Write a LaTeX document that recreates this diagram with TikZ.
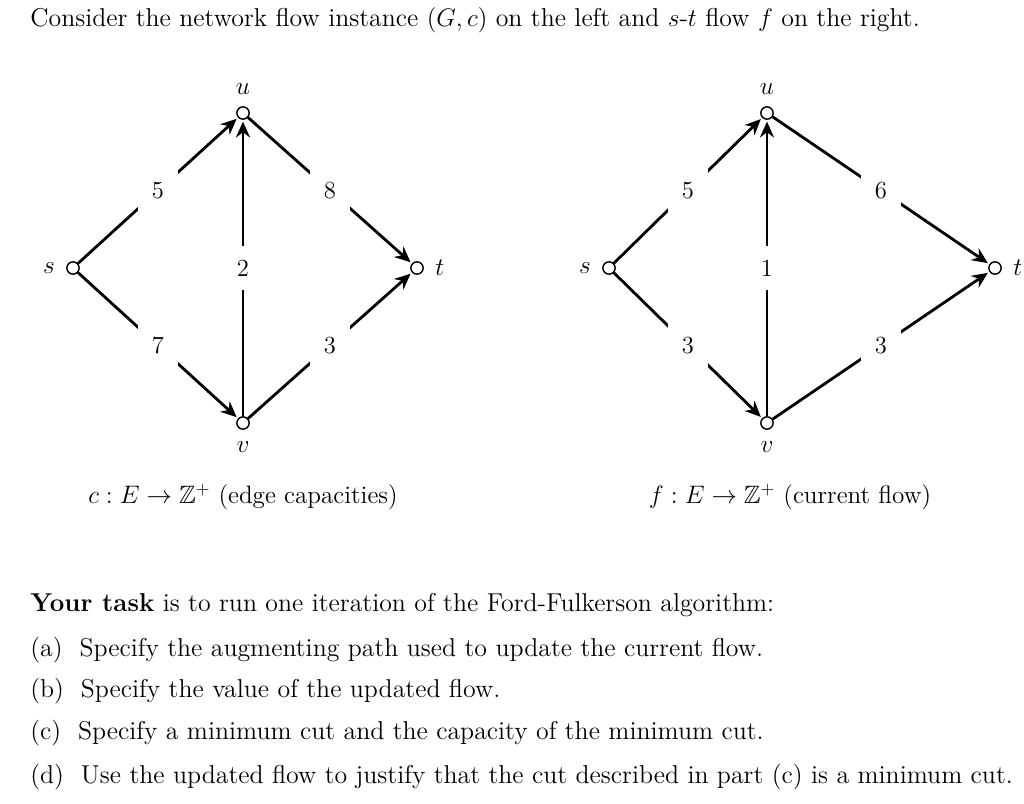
\documentclass[tikz,border=0pt]{standalone}
\usepackage{amsmath}
\usepackage{amssymb}
\usetikzlibrary{positioning,arrows.meta}
\tikzset{
  vertex/.style = {circle, draw, thick, fill=white, inner sep=0pt, minimum size=7pt},
  flowedge/.style = {draw, line width=1.6pt, -{Stealth[length=9pt,width=8pt]}, shorten >=1pt},
  weight/.style = {fill=white, inner sep=8pt, font=\fontsize{14}{16}\selectfont},
  vlabel/.style = {font=\fontsize{14.3}{16}\selectfont},
  prose/.style = {anchor=west, inner sep=0pt, font=\fontsize{14.7}{18}\selectfont}
}
\begin{document}
\begin{tikzpicture}[x=0.02cm, y=-0.02cm]
  \useasboundingbox (0,0) rectangle (1024,804);
  \node [prose] (intro) at (30,20) {Consider the network flow instance $(G,c)$ on the left and $s$-$t$ flow $f$ on the right.};

  % capacities
  \node [vertex] (s1) at (73,268) {};
  \node [vertex] (u1) at (243,113) {};
  \node [vertex] (t1) at (417,268) {};
  \node [vertex] (v1) at (243,423) {};
  \node [vlabel, left=3pt of s1] (ls1) {$s$};
  \node [vlabel, above=3pt of u1] (lu1) {$u$};
  \node [vlabel, right=3pt of t1] (lt1) {$t$};
  \node [vlabel, below=3pt of v1] (lv1) {$v$};
  \path [flowedge] (s1) -- node [weight] {5} (u1);
  \path [flowedge] (u1) -- node [weight] {8} (t1);
  \path [flowedge] (v1) -- node [weight] {2} (u1);
  \path [flowedge] (s1) -- node [weight] {7} (v1);
  \path [flowedge] (v1) -- node [weight] {3} (t1);
  \node [vlabel] (cap) at (243,497) {$c : E \rightarrow \mathbb{Z}^{+}$ (edge capacities)};

  % current flow
  \node [vertex] (s2) at (609,268) {};
  \node [vertex] (u2) at (767,113) {};
  \node [vertex] (t2) at (995,268) {};
  \node [vertex] (v2) at (767,423) {};
  \node [vlabel, left=3pt of s2] (ls2) {$s$};
  \node [vlabel, above=3pt of u2] (lu2) {$u$};
  \node [vlabel, right=3pt of t2] (lt2) {$t$};
  \node [vlabel, below=3pt of v2] (lv2) {$v$};
  \path [flowedge] (s2) -- node [weight] {5} (u2);
  \path [flowedge] (u2) -- node [weight] {6} (t2);
  \path [flowedge] (v2) -- node [weight] {1} (u2);
  \path [flowedge] (s2) -- node [weight] {3} (v2);
  \path [flowedge] (v2) -- node [weight] {3} (t2);
  \node [vlabel] (flow) at (790,497) {$f : E \rightarrow \mathbb{Z}^{+}$ (current flow)};

  % task
  \node [prose] (task) at (30,605) {\textbf{Your task} is to run one iteration of the Ford-Fulkerson algorithm:};
  \node [prose] (qa) at (30,650) {(a)\ \ Specify the augmenting path used to update the current flow.};
  \node [prose] (qb) at (30,691) {(b)\ \ Specify the value of the updated flow.};
  \node [prose] (qc) at (30,733) {(c)\ \ Specify a minimum cut and the capacity of the minimum cut.};
  \node [prose] (qd) at (30,777) {(d)\ \ Use the updated flow to justify that the cut described in part (c) is a minimum cut.};
\end{tikzpicture}
\end{document}
